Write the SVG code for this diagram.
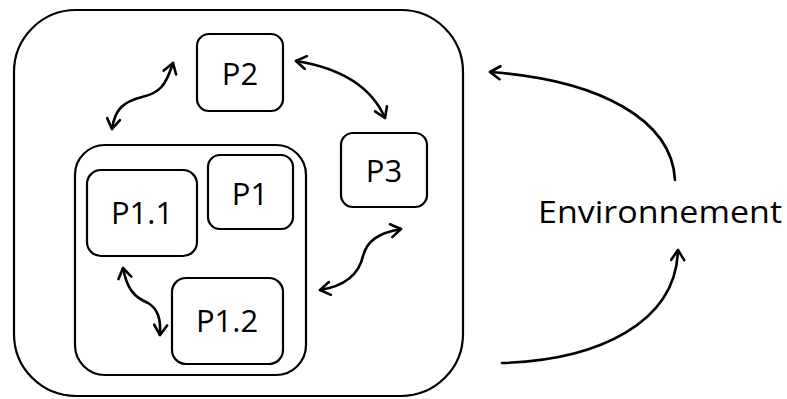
<svg xmlns="http://www.w3.org/2000/svg" width="787" height="399" viewBox="0 0 787 399">
<style>
.box{fill:none;stroke:#000;stroke-width:2.2}
.lbl{font-family:"Open Sans","Liberation Sans",sans-serif;font-size:31px;fill:#000;text-anchor:middle}
.c{fill:none;stroke:#000;stroke-width:2.6;stroke-linecap:round}
</style>
<defs>
<marker id="ah" viewBox="-12 -8 14 16" refX="0" refY="0" markerWidth="14" markerHeight="16" markerUnits="userSpaceOnUse" orient="auto-start-reverse">
<path d="M-10,-6.5 L0,0 L-10,6.5" fill="none" stroke="#000" stroke-width="2.6" stroke-linecap="round" stroke-linejoin="round"/>
</marker>
</defs>
<g id="system"><rect class="box" x="14" y="10" width="449" height="386" rx="62"/></g>
<g id="p1container"><rect class="box" x="75" y="145" width="231" height="230" rx="30"/></g>
<g id="p2"><rect class="box" x="197" y="34" width="86" height="77" rx="12"/><text class="lbl" x="240" y="85">P2</text></g>
<g id="p3"><rect class="box" x="341" y="133" width="86" height="74" rx="12"/><text class="lbl" x="384" y="182">P3</text></g>
<g id="p1"><rect class="box" x="208" y="155" width="85" height="74" rx="12"/><text class="lbl" x="250" y="205">P1</text></g>
<g id="p11"><rect class="box" x="87" y="170" width="110" height="86" rx="14"/><text class="lbl" x="142" y="224">P1.1</text></g>
<g id="p12"><rect class="box" x="172" y="278" width="111" height="86" rx="14"/><text class="lbl" x="227" y="332">P1.2</text></g>
<g id="env"><text class="lbl" x="660" y="223" textLength="244" lengthAdjust="spacingAndGlyphs">Environnement</text></g>
<g id="connectors">
<path class="c" d="M173,63 C166,85 160,93 142,97 C122,102 115,110 112,129" marker-start="url(#ah)" marker-end="url(#ah)"/>
<path class="c" d="M296,61 Q365,72 385,118" marker-start="url(#ah)" marker-end="url(#ah)"/>
<path class="c" d="M401,229 C378,233 367,241 363,256 C359,274 345,286 320,290" marker-start="url(#ah)" marker-end="url(#ah)"/>
<path class="c" d="M123,268 C127,289 134,297 148,303 C158,309 161,319 160,335" marker-start="url(#ah)" marker-end="url(#ah)"/>
<path class="c" d="M675,180 C672,120 600,80 490,72" marker-end="url(#ah)"/>
<path class="c" d="M502,363 C600,360 676,322 678,250" marker-end="url(#ah)"/>
</g>
</svg>
